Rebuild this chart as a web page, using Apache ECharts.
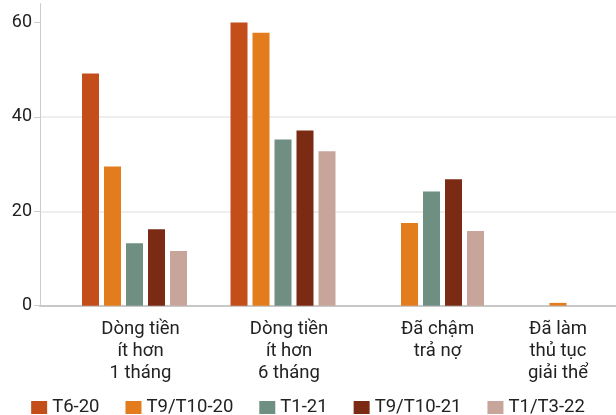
<!DOCTYPE html>
<html>
<head>
<meta charset="utf-8">
<script src="https://cdn.jsdelivr.net/npm/echarts@6/dist/echarts.min.js"></script>
<style>
  html, body { margin: 0; padding: 0; background: #ffffff; }
  #chart { width: 616px; height: 415px; }
</style>
</head>
<body>
<div id="chart"></div>
<script>
// Survey groups (x axis)
const categories = [
  'Dòng tiền\nít hơn\n1 tháng',
  'Dòng tiền\nít hơn\n6 tháng',
  'Đã chậm\ntrả nợ',
  'Đã làm\nthủ tục\ngiải thể'
];

// Survey waves (legend)
const seriesNames = ['T6-20', 'T9/T10-20', 'T1-21', 'T9/T10-21', 'T1/T3-22'];

// Share of firms (%) per wave, one entry per group
const t6_20     = [49.2, 60.0, null, null];
const t9t10_20  = [29.5, 57.8, 17.5, 0.6];
const t1_21     = [13.2, 35.2, 24.2, null];
const t9t10_21  = [16.2, 37.1, 26.8, null];
const t1t3_22   = [11.6, 32.7, 15.8, null];

// Y axis tick values
const yTicks = [0, 20, 40, 60];

const seriesValues = [t6_20, t9t10_20, t1_21, t9t10_21, t1t3_22];
const colors = ['#c44e1a', '#e27c1d', '#6f8f83', '#7b2b13', '#c7a59b'];

const FONT = 'Roboto, "Noto Sans", sans-serif';

const labelText = { fontFamily: FONT, fontSize: 18.5, lineHeight: 22, color: '#222222' };

const chart = echarts.init(document.getElementById('chart'), null, { renderer: 'canvas' });

chart.setOption({
  animation: false,
  color: colors,
  textStyle: { fontFamily: FONT },
  grid: {
    left: 40, right: 0, top: 3.5, bottom: 109.3,
    containLabel: false,
    outerBoundsMode: 'none'
  },
  legend: {
    data: seriesNames,
    left: 'center',
    top: 393,
    icon: 'rect',
    itemWidth: 16,
    itemHeight: 13,
    itemGap: 26,
    textStyle: { fontFamily: FONT, fontSize: 18.5, color: '#222222' }
  },
  xAxis: {
    type: 'value',
    min: -0.6364,
    max: 3.2424,
    axisLine: { show: true, onZero: false, lineStyle: { color: '#c8c8c8', width: 2 } },
    axisTick: { show: false },
    splitLine: { show: false },
    axisLabel: {
      customValues: categories.map((c, i) => i),
      formatter: (v) => {
        const i = Math.round(v);
        const name = categories[i];
        if (!name) return '';
        // the last group's label hugs its single bar, the others sit a touch right
        const style = i === categories.length - 1 ? 'last' : 'grp';
        return name.split('\n').map(line => '{' + style + '|' + line + '}').join('\n');
      },
      ...labelText,
      margin: 13,
      align: 'center',
      verticalAlign: 'top',
      rich: {
        grp: { ...labelText, padding: [0, 0, 0, 12] },
        last: { ...labelText, padding: [0, 44, 0, 0] }
      }
    }
  },
  yAxis: {
    type: 'value',
    min: 0,
    max: 64,
    interval: 20,
    axisLine: { show: true, onZero: false, lineStyle: { color: '#cccccc', width: 1 } },
    axisTick: {
      show: true,
      length: 6,
      customValues: yTicks,
      lineStyle: { color: '#cccccc' }
    },
    axisLabel: {
      customValues: yTicks,
      fontFamily: FONT,
      fontSize: 18,
      color: '#222222',
      margin: 8
    },
    splitLine: {
      show: true,
      showMaxLine: false,
      lineStyle: { color: '#e8e8e8', width: 1.5 }
    }
  },
  series: seriesNames.map((name, s) => ({
    name: name,
    type: 'bar',
    barWidth: 17,
    barGap: '29.4%',
    data: seriesValues[s].map((v, i) => [i, v]),
    itemStyle: { color: colors[s] }
  }))
});
</script>
</body>
</html>
